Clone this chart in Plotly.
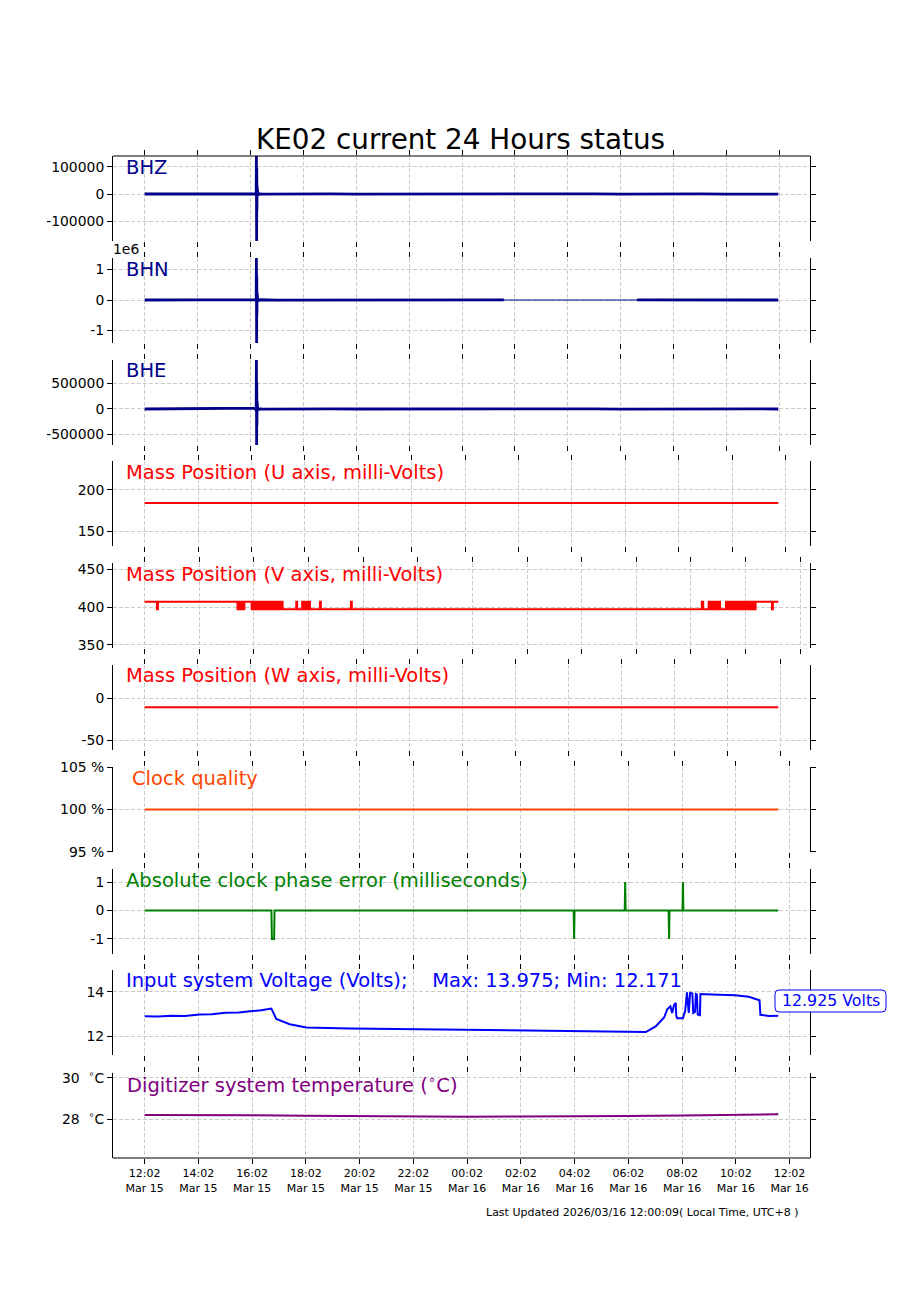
import pandas as pd
import plotly.graph_objects as go

# ---------------- data ----------------
T0 = pd.Timestamp("2026-03-15 12:02")
TITLE = "KE02 current 24 Hours status"
UPDATED = "Last Updated 2026/03/16 12:00:09( Local Time, UTC+8 )"

TICK_HOURS = [0, 2, 4, 6, 8, 10, 12, 14, 16, 18, 20, 22, 24]
TICK_LABELS = ["12:02<br>Mar 15", "14:02<br>Mar 15", "16:02<br>Mar 15", "18:02<br>Mar 15",
               "20:02<br>Mar 15", "22:02<br>Mar 15", "00:02<br>Mar 16", "02:02<br>Mar 16",
               "04:02<br>Mar 16", "06:02<br>Mar 16", "08:02<br>Mar 16", "10:02<br>Mar 16",
               "12:02<br>Mar 16"]

# times are minutes after T0
BHZ_T = [0, 40, 95, 150, 200, 240, 250, 253, 253.5, 254, 254.3, 254.6, 255, 255.5, 256, 258, 262,
         270, 300, 360, 420, 480, 540, 600, 660, 720, 780, 840, 900, 960, 1020, 1080, 1140, 1200,
         1260, 1320, 1380, 1437.6]
BHZ_V = [0, 300, -200, 250, -150, 200, 900, -3000, 140700, -174000, 95000, -60000, 30000,
         -15000, 8000, -2000, 600, -300, 200, -150, 120, -100, 150, -120, 100, -150, 200, -250,
         300, -350, 400, -380, 420, -450, 400, -380, 350, -100]

BHN_T = [0, 60, 150, 240, 250, 253, 253.5, 254, 254.3, 254.6, 255, 255.5, 256, 258, 262, 300,
         420, 600, 815, 900, 1117, 1200, 1300, 1437.6]
BHN_V = [0, 2000, -1500, 2500, 9000, -20000, 1377000, -1410000, 800000, -500000, 250000,
         -120000, 60000, -20000, 8000, -2000, 1500, -1500, 1000, None, 1000, -1500, 1500, 0]
BHN_QUIET_T = [815, 1117]
BHN_QUIET_V = [0, 0]

BHE_T = [0, 40, 95, 150, 200, 240, 250, 253, 253.5, 254, 254.3, 254.6, 255, 255.5, 256, 258, 262,
         270, 300, 360, 420, 480, 540, 600, 660, 720, 780, 840, 900, 960, 1020, 1080, 1140, 1200,
         1260, 1320, 1380, 1437.6]
BHE_V = [0, 1500, -1000, 1200, -1400, 1800, 15000, -30000, 960000, -706000, 520000, -330000,
         160000, -80000, 40000, -8000, 3000, -1500, 1000, -800, 600, -600, 800, -600,
         600, -800, 1000, -1200, 1400, -1600, 1800, -1600, 1800, -2000, 1600, -1400, 1200, -400]

MASS_U_T = [0, 1424]
MASS_U_V = [184, 184]

MASS_V_T = [0, 27, 29, 204, 207, 210, 214, 216, 219, 235,
            237, 239, 241, 244, 246, 248, 250, 253, 255, 257, 259, 262, 264, 266, 268, 271,
            273, 275, 278, 280, 282, 285, 287, 290, 292, 294, 297, 299, 301, 303,
            333, 335, 346, 349, 352, 353, 355, 357, 361, 363, 385, 387, 453, 455,
            1224, 1227, 1239, 1241, 1243, 1246, 1248, 1250, 1253, 1255, 1257, 1260, 1262, 1264,
            1277, 1279, 1281, 1284, 1286, 1288, 1291, 1293, 1295, 1298, 1300, 1302, 1305, 1307,
            1309, 1312, 1314, 1316, 1319, 1321, 1323, 1326, 1328, 1330, 1333, 1335, 1337, 1340,
            1342, 1378, 1380, 1392]
MASS_V_V = [407, 397, 407, 397, 407, 397, 407, 397, 407, 397,
            407, 397, 407, 397, 407, 397, 407, 397, 407, 397, 407, 397, 407, 397, 407, 397,
            407, 397, 407, 397, 407, 397, 407, 397, 407, 397, 407, 397, 407, 397,
            407, 397, 407, 397, 407, 397, 407, 397, 407, 397, 407, 397, 407, 397,
            407, 397, 407, 397, 407, 397, 407, 397, 407, 397, 407, 397, 407, 397,
            407, 397, 407, 397, 407, 397, 407, 397, 407, 397, 407, 397, 407, 397,
            407, 397, 407, 397, 407, 397, 407, 397, 407, 397, 407, 397, 407, 397,
            407, 397, 407, 407]

MASS_W_T = [0, 1436]
MASS_W_V = [-11, -11]

CLOCK_T = [0, 1415]
CLOCK_V = [100, 100]

PHASE_T = [0, 283, 284, 289, 290, 958, 959, 960, 1072, 1073, 1074, 1170, 1171, 1172,
           1201, 1202, 1203, 1415]
PHASE_V = [0, 0, -1, -1, 0, 0, -1, 0, 0, 1, 0, 0, -1, 0, 0, 1, 0, 0]

VOLT_T = [0, 30, 60, 90, 123, 150, 180, 210, 235, 260, 283, 286, 294, 324, 361, 458, 680, 904,
          1059, 1104, 1119, 1141, 1160, 1167, 1174, 1178, 1182, 1186, 1187, 1189, 1202, 1207,
          1211, 1215, 1218, 1223, 1225, 1229, 1231, 1233, 1235, 1240, 1241, 1282, 1319, 1349,
          1373, 1375, 1394, 1415]
VOLT_V = [12.90, 12.89, 12.93, 12.92, 12.98, 12.99, 13.06, 13.07, 13.13, 13.17, 13.25, 13.10,
          12.78, 12.55, 12.40, 12.36, 12.30, 12.24, 12.20, 12.171, 12.20, 12.45, 12.85, 13.22,
          13.35, 13.05, 13.40, 13.50, 12.95, 12.82, 12.82, 13.15, 13.975, 13.05, 13.95, 13.92,
          13.05, 13.10, 13.90, 13.88, 12.98, 12.95, 13.90, 13.87, 13.85, 13.78, 13.62, 12.97,
          12.92, 12.925]

TEMP_T = [0, 120, 240, 360, 480, 600, 720, 840, 960, 1080, 1200, 1320, 1415]
TEMP_V = [28.20, 28.21, 28.19, 28.16, 28.14, 28.13, 28.12, 28.13, 28.13, 28.15, 28.17, 28.20, 28.23]

# ---------------- layout helpers ----------------
def tt(mins):
    return [T0 + pd.Timedelta(minutes=m) for m in mins]

OX, OY = 8, 8            # page body margin
W, H = 884, 1284         # figure size so the page fits the 900x1300 window


def px(x):
    return (x - OX) / W


def py(y):
    return 1 - (y - OY) / H


FONT = "DejaVu Sans"
AX_L, AX_R = 113, 810
PANEL_TOP = [156, 258, 360, 461, 563, 665, 767, 869, 970, 1073]
PANEL_H = 85
LABEL_SIZE = 19.5
DEG = "\u00a0<sup>∘</sup>C"

vmax, vmin = max(VOLT_V), min(VOLT_V)
tmin_, tmax_ = min(TEMP_V), max(TEMP_V)
bhn_vals = [v for v in BHN_V if v is not None]

panels = [
    dict(traces=[(BHZ_T, BHZ_V, "#00008B", 2.8, "linear")], label="BHZ", color="#00008B",
         yr=[min(BHZ_V), max(BHZ_V)], tv=[-100000, 0, 100000], tx=["-100000", "0", "100000"], lx=124),
    dict(traces=[(BHN_T, BHN_V, "#00008B", 2.8, "linear"), (BHN_QUIET_T, BHN_QUIET_V, "#00008B", 1.0, "linear")],
         label="BHN", color="#00008B", yr=[min(bhn_vals), max(bhn_vals)],
         tv=[-1e6, 0, 1e6], tx=["-1", "0", "1"], lx=124),
    dict(traces=[(BHE_T, BHE_V, "#00008B", 2.8, "linear")], label="BHE", color="#00008B",
         yr=[min(BHE_V), max(BHE_V)], tv=[-500000, 0, 500000], tx=["-500000", "0", "500000"], lx=124),
    dict(traces=[(MASS_U_T, MASS_U_V, "#FF0000", 2, "linear")], label="Mass Position (U axis, milli-Volts)",
         color="#FF0000", yr=[132.1, 234.5], tv=[150, 200], tx=["150", "200"], lx=124),
    dict(traces=[(MASS_V_T, MASS_V_V, "#FF0000", 2, "hv")], label="Mass Position (V axis, milli-Volts)",
         color="#FF0000", yr=[346, 458], tv=[350, 400, 450], tx=["350", "400", "450"], lx=124),
    dict(traces=[(MASS_W_T, MASS_W_V, "#FF0000", 2, "linear")], label="Mass Position (W axis, milli-Volts)",
         color="#FF0000", yr=[-61.9, 39.3], tv=[-50, 0], tx=["-50", "0"], lx=124),
    dict(traces=[(CLOCK_T, CLOCK_V, "#FF4500", 2, "linear")], label="Clock quality", color="#FF4500",
         yr=[94.98, 105.02], tv=[95, 100, 105], tx=["95 %", "100 %", "105 %"], lx=130),
    dict(traces=[(PHASE_T, PHASE_V, "#008000", 2, "linear")], label="Absolute clock phase error (milliseconds)",
         color="#008000", yr=[-1.53, 1.46], tv=[-1, 0, 1], tx=["-1", "0", "1"], lx=124),
    dict(traces=[(VOLT_T, VOLT_V, "#0000FF", 2, "linear")],
         label="Input system Voltage (Volts); \u00a0\u00a0\u00a0Max: %.3f; Min: %.3f" % (vmax, vmin),
         color="#0000FF", yr=[vmin - 1, vmax + 1], tv=[12, 14], tx=["12", "14"], lx=124),
    dict(traces=[(TEMP_T, TEMP_V, "#800080", 2, "linear")],
         label="Digitizer system temperature (<sup>∘</sup>C)", color="#800080",
         yr=[tmin_ - 2, tmax_ + 2], tv=[28, 30], tx=["28 " + DEG, "30 " + DEG], lx=125),
]

fig = go.Figure()
layout = dict(width=W, height=H, margin=dict(l=0, r=0, t=0, b=0, autoexpand=False),
              paper_bgcolor="white", plot_bgcolor="white", showlegend=False,
              font=dict(family=FONT, color="black"))
annotations = []
shapes = []

tick_times = [T0 + pd.Timedelta(hours=h) for h in TICK_HOURS]

for i, p in enumerate(panels):
    n = i + 1
    xa = "x" if n == 1 else f"x{n}"
    ya = "y" if n == 1 else f"y{n}"
    xkey = "xaxis" if n == 1 else f"xaxis{n}"
    ykey = "yaxis" if n == 1 else f"yaxis{n}"
    all_t = []
    for (t, v, c, w, shp) in p["traces"]:
        times = tt(t)
        all_t += times
        fig.add_trace(go.Scatter(x=times, y=v, mode="lines", xaxis=xa, yaxis=ya,
                                 line=dict(color=c, width=w, shape=shp),
                                 connectgaps=False, hoverinfo="skip"))
    t_lo, t_hi = min(all_t), max(all_t)
    pad = (t_hi - t_lo) * 0.05
    top = PANEL_TOP[i]
    bot = top + PANEL_H
    layout[xkey] = dict(
        domain=[px(AX_L), px(AX_R)], anchor=ya, type="date",
        range=[t_lo - pad, t_hi + pad], automargin=False,
        tickmode="array", tickvals=tick_times, ticktext=TICK_LABELS,
        showticklabels=(n == len(panels)), tickfont=dict(size=11, family=FONT),
        ticks="outside", ticklen=5, tickwidth=1, tickcolor="black", mirror="ticks",
        showline=False, showgrid=True, gridcolor="#cccccc", gridwidth=1, griddash="4px,2px",
        zeroline=False,
    )
    layout[ykey] = dict(
        domain=[py(bot), py(top)], anchor=xa, range=p["yr"], automargin=False,
        tickmode="array", tickvals=p["tv"], ticktext=p["tx"],
        tickfont=dict(size=13.9, family=FONT),
        ticks="outside", ticklen=5, tickwidth=1, tickcolor="black",
        showline=True, linecolor="black", linewidth=1, mirror="ticks",
        showgrid=True, gridcolor="#cccccc", gridwidth=1, griddash="4px,2px",
        zeroline=False,
    )
    annotations.append(dict(text=p["label"], xref="paper", yref="paper",
                            x=px(p["lx"]), y=py(top + 11), xanchor="left", yanchor="middle",
                            showarrow=False, font=dict(size=LABEL_SIZE, color=p["color"], family=FONT)))

# top spine of first panel, bottom spine of last panel
shapes.append(dict(type="line", xref="x domain", yref="y domain", x0=0, x1=1, y0=1, y1=1,
                   line=dict(color="black", width=1)))
shapes.append(dict(type="line", xref="x10 domain", yref="y10 domain", x0=0, x1=1, y0=0, y1=0,
                   line=dict(color="black", width=1)))

# rounded box for the last-voltage label
bx0, bx1, by0, by1, rad = 775, 886, 990, 1012, 4
rx, ry = rad / W, rad / H
X0, X1, Y0, Y1 = px(bx0), px(bx1), py(by1), py(by0)
path = (f"M {X0 + rx},{Y0} L {X1 - rx},{Y0} Q {X1},{Y0} {X1},{Y0 + ry} "
        f"L {X1},{Y1 - ry} Q {X1},{Y1} {X1 - rx},{Y1} L {X0 + rx},{Y1} "
        f"Q {X0},{Y1} {X0},{Y1 - ry} L {X0},{Y0 + ry} Q {X0},{Y0} {X0 + rx},{Y0} Z")
shapes.append(dict(type="path", xref="paper", yref="paper", path=path,
                   line=dict(color="#0000FF", width=1), fillcolor="white", layer="above"))

annotations.append(dict(text=TITLE, xref="paper", yref="paper", x=px(461), y=py(139),
                        xanchor="center", yanchor="middle", showarrow=False,
                        font=dict(size=27.8, family=FONT, color="black")))
annotations.append(dict(text="1e6", xref="paper", yref="paper", x=px(111), y=py(249),
                        xanchor="left", yanchor="middle", showarrow=False,
                        font=dict(size=13.9, family=FONT, color="black")))
annotations.append(dict(text="%.3f Volts" % VOLT_V[-1], xref="paper", yref="paper",
                        x=px((bx0 + bx1) / 2), y=py((by0 + by1) / 2), xanchor="center", yanchor="middle",
                        showarrow=False, font=dict(size=15.8, family=FONT, color="#0000FF")))
annotations.append(dict(text=UPDATED, xref="paper", yref="paper", x=px(642), y=py(1212),
                        xanchor="center", yanchor="middle", showarrow=False,
                        font=dict(size=11, family=FONT, color="black")))

layout["annotations"] = annotations
layout["shapes"] = shapes
fig.update_layout(**layout)
fig.write_html("out.html")
